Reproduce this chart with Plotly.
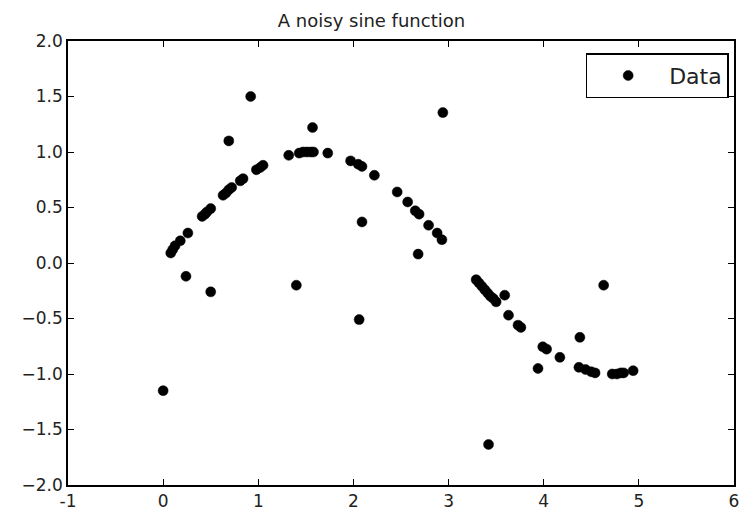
import plotly.graph_objects as go

x_values = [0.00, 0.08, 0.10, 0.125, 0.18, 0.24, 0.26, 0.41, 0.44, 0.46, 0.50, 0.50,
            0.63, 0.66, 0.69, 0.69, 0.72, 0.81, 0.84, 0.92, 0.98, 1.02, 1.05,
            1.32, 1.40, 1.43, 1.47, 1.51, 1.55, 1.58, 1.57, 1.73, 1.97, 2.05, 2.09,
            2.06, 2.09, 2.22, 2.46, 2.57, 2.65, 2.69, 2.68, 2.79, 2.88, 2.93, 2.94,
            3.29, 3.32, 3.35, 3.38, 3.41, 3.44, 3.47, 3.50, 3.42, 3.59, 3.63, 3.73,
            3.76, 3.94, 3.99, 4.03, 4.17, 4.37, 4.38, 4.44, 4.50, 4.54, 4.63, 4.72,
            4.77, 4.81, 4.84, 4.94]
y_values = [-1.15, 0.09, 0.12, 0.155, 0.20, -0.12, 0.27, 0.42, 0.44, 0.46, 0.49, -0.26,
            0.61, 0.63, 0.66, 1.10, 0.68, 0.74, 0.76, 1.50, 0.84, 0.86, 0.88,
            0.97, -0.20, 0.99, 1.00, 1.00, 1.00, 1.00, 1.22, 0.99, 0.92, 0.89, 0.87,
            -0.51, 0.37, 0.79, 0.64, 0.55, 0.47, 0.44, 0.08, 0.34, 0.27, 0.21, 1.355,
            -0.15, -0.18, -0.21, -0.24, -0.27, -0.30, -0.32, -0.35, -1.635, -0.29, -0.47, -0.56,
            -0.58, -0.95, -0.755, -0.776, -0.85, -0.94, -0.67, -0.96, -0.98, -0.99, -0.20, -1.00,
            -1.00, -0.99, -0.99, -0.97]

x_ticks = [-1, 0, 1, 2, 3, 4, 5, 6]
y_ticks = [-2.0, -1.5, -1.0, -0.5, 0.0, 0.5, 1.0, 1.5, 2.0]

FONT = "DejaVu Sans"

fig = go.Figure()
fig.add_trace(go.Scatter(
    x=x_values, y=y_values, mode="markers", name="Data",
    marker=dict(color="black", size=10, line=dict(color="black", width=0.5)),
))

axis_common = dict(
    showline=True, linecolor="black", linewidth=1.5, mirror="ticks",
    ticks="inside", ticklen=6, tickwidth=1, tickcolor="black",
    showgrid=False, zeroline=False,
    tickfont=dict(family=FONT, size=17, color="#222222"),
)

fig.update_layout(
    width=742, height=513,
    margin=dict(l=68, r=6, t=41, b=28),
    paper_bgcolor="white", plot_bgcolor="white",
    title=dict(text="A noisy sine function", x=371.5 / 742, xanchor="center",
               y=1 - 21 / 513, yanchor="middle",
               font=dict(family=FONT, size=18, color="#222222")),
    xaxis=dict(range=[-1, 6], tickvals=x_ticks, ticktext=[str(v) for v in x_ticks],
               automargin=False, **axis_common),
    yaxis=dict(range=[-2, 2], tickvals=y_ticks, tickformat=".1f",
               automargin=True, **axis_common),
    showlegend=True,
    legend=dict(x=0.992, y=0.9725, xanchor="right", yanchor="top",
                bordercolor="black", borderwidth=1.5, bgcolor="white",
                font=dict(family=FONT, size=22, color="#222222"),
                itemwidth=72),
)

fig.write_html("out.html")
